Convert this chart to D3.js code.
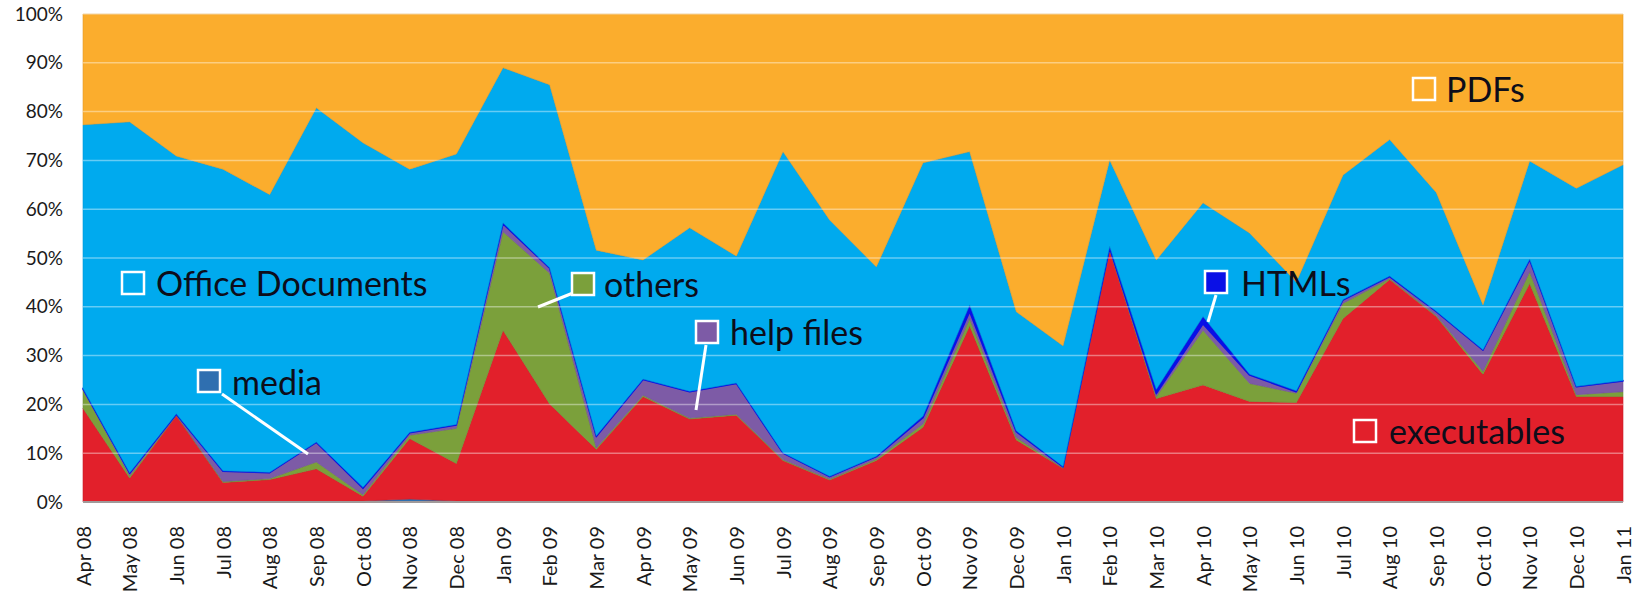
<!DOCTYPE html>
<html>
<head>
<meta charset="utf-8">
<script src="https://cdn.jsdelivr.net/npm/d3@7"></script>
<style>
  body { margin: 0; background: #fff; }
  svg { font-family: Lato, "Open Sans", sans-serif; }
</style>
</head>
<body>
<div id="chart"></div>
<script>
const months = ["Apr 08","May 08","Jun 08","Jul 08","Aug 08","Sep 08","Oct 08","Nov 08","Dec 08",
  "Jan 09","Feb 09","Mar 09","Apr 09","May 09","Jun 09","Jul 09","Aug 09","Sep 09","Oct 09","Nov 09","Dec 09",
  "Jan 10","Feb 10","Mar 10","Apr 10","May 10","Jun 10","Jul 10","Aug 10","Sep 10","Oct 10","Nov 10","Dec 10",
  "Jan 11"];

// shares in percent, per month
const media       = [0,0,0,0,0,0,0.2,0.6,0.2, 0,0,0,0,0,0,0,0,0,0,0,0, 0,0,0,0,0,0,0,0,0,0,0,0, 0];
const executables = [19.2,4.9,17.7,4.0,4.6,6.8,1.0,12.4,7.7, 35.2,20.1,10.8,21.6,17.0,17.8,8.5,4.5,8.5,15.3,36.1,12.7,
  6.9,51.6,21.2,24.0,20.6,20.4,37.6,45.6,38.0,26.2,44.8,21.6, 21.6];
const others      = [3.8,0.5,0.1,0.2,0.2,1.4,0.3,0.7,7.2, 20.2,26.8,0.3,0.3,0.2,0.2,0.2,0.2,0.3,0.7,1.5,0.5,
  0.1,0.2,0.4,11.2,3.7,1.9,3.1,0.2,0.2,0.6,2.4,0.4, 1.0];
const helpFiles   = [0.2,0.5,0.2,2.1,1.2,4.0,1.3,0.5,0.7, 1.6,1.0,2.3,3.2,5.4,6.3,1.3,0.5,0.5,1.3,1.4,1.2,
  0.2,0.2,0.6,1.3,1.7,0.3,0.7,0.4,0.8,4.3,2.4,1.6, 2.2];
const htmls       = [0.1,0.1,0.1,0.1,0.1,0.1,0.2,0.1,0.1, 0.2,0.1,0.2,0.1,0.1,0.1,0.1,0.1,0.1,0.3,1.4,0.2,
  0.1,0.4,0.9,1.5,0.2,0.2,0.1,0.1,0.1,0.1,0.2,0.1, 0.1];
const officeDocs  = [54.0,71.9,52.8,61.8,56.9,68.5,70.6,53.9,55.4, 31.8,37.5,38.0,24.4,33.5,26.0,61.7,52.5,38.8,51.9,31.4,24.4,
  24.7,17.7,26.5,23.3,28.9,22.3,25.5,28.0,24.3,9.2,20.1,40.6, 44.2];
const pdfs        = [22.7,22.1,29.1,31.8,37.0,19.2,26.4,31.8,28.7, 11.0,14.5,48.4,50.4,43.8,49.6,28.2,42.2,51.8,30.5,28.2,61.0,
  68.0,29.9,50.4,38.7,44.9,54.9,33.0,25.7,36.6,59.6,30.1,35.7, 30.9];

const keys = ["media","executables","others","helpFiles","htmls","officeDocs","pdfs"];
const colors = {
  media: "#2f6fb0", executables: "#e2202b", others: "#7ba03b", helpFiles: "#7d5ba6",
  htmls: "#0a10e6", officeDocs: "#00aaee", pdfs: "#fbad2d"
};
const series = { media, executables, others, helpFiles, htmls, officeDocs, pdfs };

const rows = months.map((m, i) => {
  const r = { month: m };
  keys.forEach(k => { r[k] = series[k][i]; });
  return r;
});

const width = 1639, height = 594;
const margin = { left: 83, right: 1623, top: 14, bottom: 502 };

const svg = d3.select("#chart").append("svg")
  .attr("width", width)
  .attr("height", height);

const x = d3.scalePoint().domain(months).range([margin.left, margin.right]);
const y = d3.scaleLinear().domain([0, 1]).range([margin.bottom, margin.top]);

const stacked = d3.stack().keys(keys).offset(d3.stackOffsetExpand)(rows);

const area = d3.area()
  .x(d => x(d.data.month))
  .y0(d => y(d[0]))
  .y1(d => y(d[1]));

svg.append("g")
  .selectAll("path")
  .data(stacked)
  .enter()
  .append("path")
    .attr("d", area)
    .attr("fill", d => colors[d.key])
    .attr("stroke", d => d.key == "htmls" ? colors.htmls : d3.color(colors[d.key]).darker(0.3))
    .attr("stroke-width", d => d.key == "htmls" ? 1.5 : 0.6)
    .attr("stroke-linejoin", "round");

// light gridlines over the areas
svg.append("g")
  .selectAll("line")
  .data(d3.range(1, 11).map(v => v / 10))
  .enter()
  .append("line")
    .attr("x1", margin.left).attr("x2", margin.right)
    .attr("y1", d => y(d)).attr("y2", d => y(d))
    .attr("stroke", "#fff")
    .attr("stroke-opacity", 0.4)
    .attr("stroke-width", 1.5);

// bottom axis line
svg.append("line")
  .attr("x1", margin.left).attr("x2", margin.right)
  .attr("y1", margin.bottom).attr("y2", margin.bottom)
  .attr("stroke", "#a09a9a")
  .attr("stroke-width", 2);

const yAxis = svg.append("g")
  .attr("transform", "translate(" + margin.left + ",0)")
  .call(d3.axisLeft(y).tickValues(d3.range(0, 11).map(v => v / 10))
    .tickFormat(d3.format(".0%")).tickSize(0).tickPadding(20));
yAxis.select(".domain").remove();
yAxis.selectAll("text")
  .style("font-size", "19px")
  .style("fill", "#1a1a1a")
  .style("font-family", "Lato, sans-serif");

const xAxis = svg.append("g")
  .attr("transform", "translate(0," + margin.bottom + ")")
  .call(d3.axisBottom(x).tickSize(0));
xAxis.select(".domain").remove();
xAxis.selectAll("text")
  .attr("transform", "rotate(-90)")
  .attr("x", -24)
  .attr("y", 0)
  .attr("dy", "0.35em")
  .style("text-anchor", "end")
  .style("font-size", "20px")
  .style("fill", "#1a1a1a")
  .style("font-family", "Lato, sans-serif");

// in-chart labels
const labels = [
  { text: "Office Documents", key: "officeDocs", bx: 122, by: 272, tx: 156, ty: 296, line: null },
  { text: "media", key: "media", bx: 198, by: 370, tx: 232, ty: 395, line: [[222, 394], [308, 454]] },
  { text: "others", key: "others", bx: 572, by: 273, tx: 604, ty: 297, line: [[573, 293], [538, 307]] },
  { text: "help files", key: "helpFiles", bx: 696, by: 321, tx: 730, ty: 345, line: [[706, 345], [696, 410]] },
  { text: "HTMLs", key: "htmls", bx: 1205, by: 271, tx: 1241, ty: 296, line: [[1216, 295], [1208, 322]] },
  { text: "PDFs", key: "pdfs", bx: 1413, by: 78, tx: 1446, ty: 102, line: null },
  { text: "executables", key: "executables", bx: 1354, by: 420, tx: 1389, ty: 444, line: null }
];

const lab = svg.append("g");
labels.forEach(l => {
  if (l.line) {
    lab.append("line")
      .attr("x1", l.line[0][0]).attr("y1", l.line[0][1])
      .attr("x2", l.line[1][0]).attr("y2", l.line[1][1])
      .attr("stroke", "#fff").attr("stroke-width", 3);
  }
  lab.append("rect")
    .attr("x", l.bx).attr("y", l.by)
    .attr("width", 22).attr("height", 22)
    .attr("fill", colors[l.key])
    .attr("stroke", "#fff").attr("stroke-width", 2.5);
  lab.append("text")
    .attr("x", l.tx).attr("y", l.ty)
    .text(l.text)
    .style("font-size", "34px")
    .style("fill", "#0d0d1a")
    .style("font-family", "Lato, sans-serif");
});
</script>
</body>
</html>
